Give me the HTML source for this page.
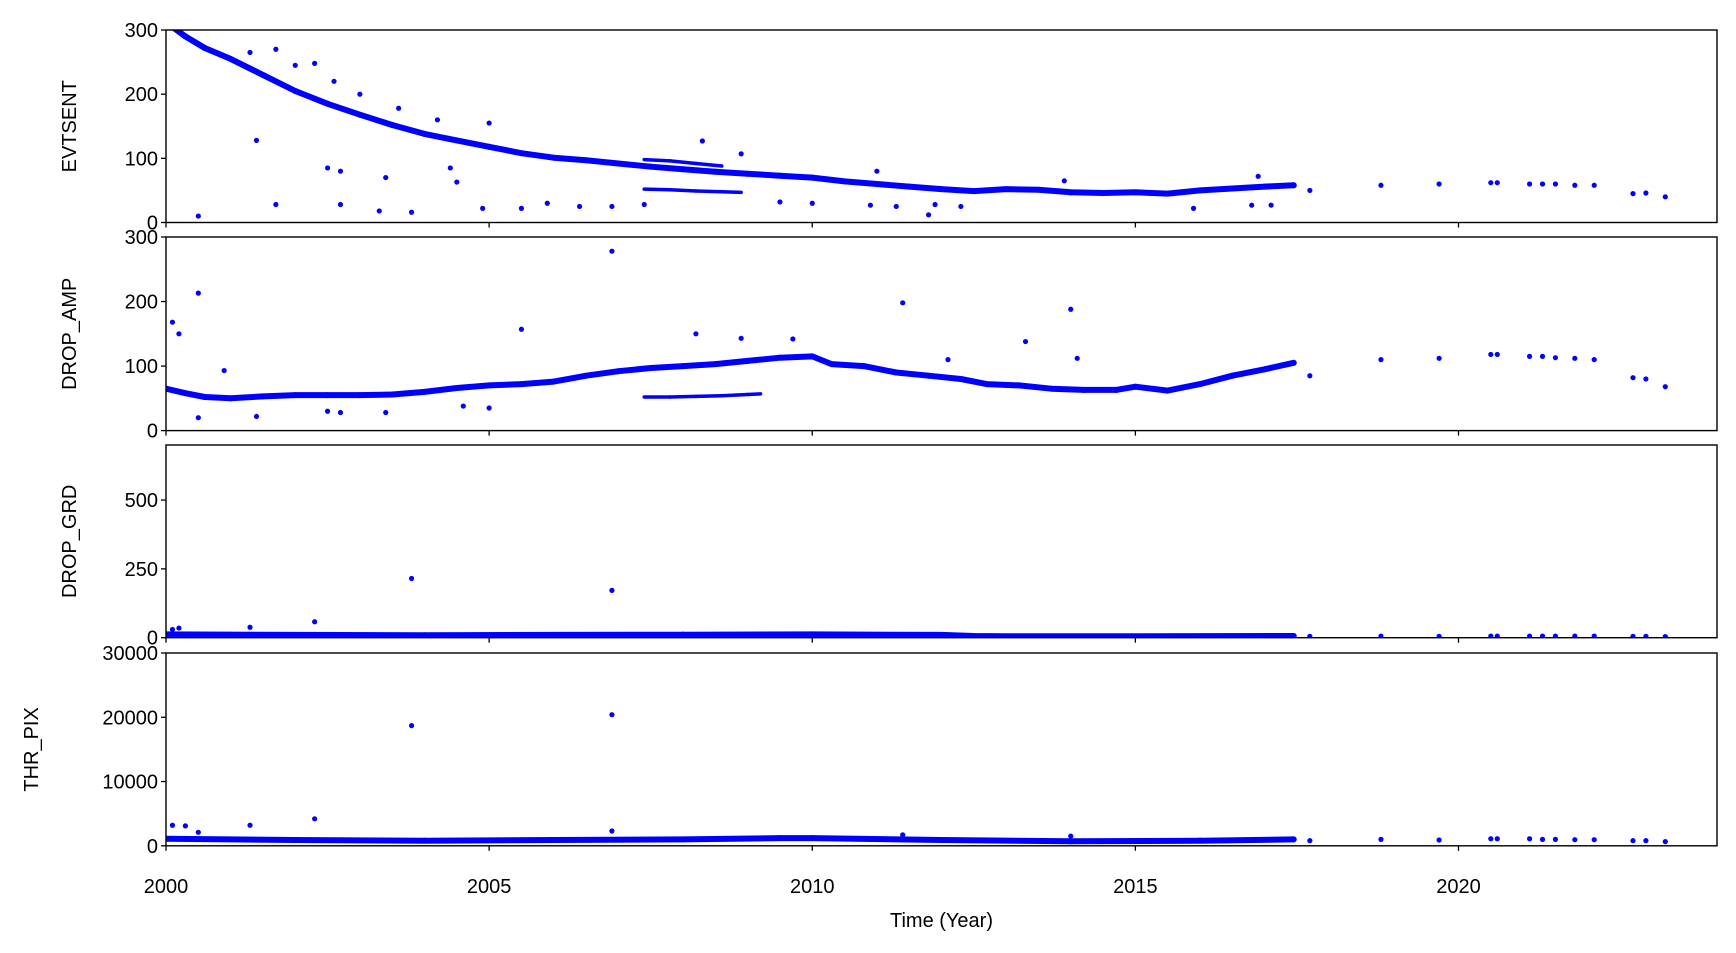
<!DOCTYPE html>
<html><head><meta charset="utf-8">
<style>
html,body{margin:0;padding:0;background:#fff;}
svg{display:block;font-family:"Liberation Sans","DejaVu Sans",sans-serif;}
</style></head>
<body>
<svg id="chart" width="1736" height="953" viewBox="0 0 1736 953" xmlns="http://www.w3.org/2000/svg"></svg>
<script>
// ---- data ----
const xTicks = [2000, 2005, 2010, 2015, 2020];
const panelNames = ["EVTSENT", "DROP_AMP", "DROP_GRD", "THR_PIX"];
const yMaxes = [300, 300, 700, 30000];
const yTicks0 = [0, 100, 200, 300];
const yTicks1 = [0, 100, 200, 300];
const yTicks2 = [0, 250, 500];
const yTicks3 = [0, 10000, 20000, 30000];

const evtYears = [2000.0,2000.3,2000.6,2001,2001.5,2002,2002.5,2003,2003.5,2004,2004.5,2005,2005.5,2006,2006.5,2007,2007.5,2008,2008.5,2009,2009.5,2010,2010.5,2011,2011.5,2012,2012.5,2013,2013.5,2014,2014.5,2015,2015.5,2016,2016.5,2017,2017.45];
const evtVals  = [312,290,272,255,230,205,185,168,152,138,128,118,108,101,97,92,87,83,79,76,73,70,64,60,56,52,49,52,51,47,46,47,45,50,53,56,58];
const evtBandYears = [2007.4,2007.8,2008.2,2008.6,2007.4,2007.8,2008.2,2008.6,2008.9];
const evtBandVals  = [98,96,92,88,52,51,49,48,47];
const evtPtYears = [2000.5,2001.4,2001.7,2002.5,2002.7,2002.7,2003.4,2003.3,2003.8,2004.4,2004.5,2004.9,2005.5,2005.9,2006.4,2006.9,2007.4,2008.3,2008.9,2009.5,2010,2010.9,2011.3,2011.8,2011.9,2012.3,2015.9,2016.8,2017.1,2001.3,2001.7,2002,2002.3,2002.6,2003,2003.6,2004.2,2005,2016.9,2011,2013.9,2017.7,2018.8,2019.7,2020.5,2020.6,2021.1,2021.3,2021.5,2021.8,2022.1,2022.7,2022.9,2023.2];
const evtPtVals  = [10,128,28,85,80,28,70,18,16,85,63,22,22,30,25,25,28,127,107,32,30,27,25,12,28,25,22,27,27,265,270,245,248,220,200,178,160,155,72,80,65,50,58,60,62,62,60,60,60,58,58,45,46,40];

const ampYears = [2000,2000.3,2000.6,2001,2001.5,2002,2002.5,2003,2003.5,2004,2004.5,2005,2005.5,2006,2006.5,2007,2007.5,2008,2008.5,2009,2009.5,2010,2010.3,2010.8,2011.3,2011.8,2012.3,2012.7,2013.2,2013.7,2014.2,2014.7,2015,2015.5,2016,2016.5,2017,2017.45];
const ampVals  = [65,58,52,50,53,55,55,55,56,60,66,70,72,76,85,92,97,100,103,108,113,115,103,100,90,85,80,72,70,65,63,63,68,62,72,85,95,105];
const ampBandYears = [2007.4,2007.8,2008.2,2008.6,2009.0,2009.2];
const ampBandVals  = [52,52,53,54,56,57];
const ampPtYears = [2000.1,2000.2,2000.5,2000.9,2000.5,2001.4,2002.5,2002.7,2003.4,2005.5,2006.9,2008.2,2008.9,2009.7,2011.4,2013.3,2014.0,2014.1,2004.6,2005,2012.1,2017.7,2018.8,2019.7,2020.5,2020.6,2021.1,2021.3,2021.5,2021.8,2022.1,2022.7,2022.9,2023.2];
const ampPtVals  = [168,150,213,93,20,22,30,28,28,157,278,150,143,142,198,138,188,112,38,35,110,85,110,112,118,118,115,115,113,112,110,82,80,68];

const grdYears = [2000,2002,2004,2006,2008,2010,2012,2012.5,2013,2015,2017.45];
const grdVals  = [12,10,9,10,11,12,10,6,5,5,6];
const grdPtYears = [2003.8,2006.9,2002.3,2001.3,2000.2,2000.1,2017.7,2018.8,2019.7,2020.5,2020.6,2021.1,2021.3,2021.5,2021.8,2022.1,2022.7,2022.9,2023.2];
const grdPtVals  = [215,172,58,38,35,30,5,6,5,6,6,6,6,6,6,6,5,5,4];

const thrYears = [2000,2002,2004,2006,2008,2009.5,2010,2012,2014,2016,2017.45];
const thrVals  = [1100,900,800,900,1000,1200,1200,900,700,800,1000];
const thrPtYears = [2003.8,2006.9,2002.3,2001.3,2000.1,2000.3,2000.5,2006.9,2011.4,2014,2017.7,2018.8,2019.7,2020.5,2020.6,2021.1,2021.3,2021.5,2021.8,2022.1,2022.7,2022.9,2023.2];
const thrPtVals  = [18700,20400,4200,3200,3200,3100,2100,2300,1700,1500,800,1000,900,1100,1100,1100,1000,1000,950,950,800,800,650];

// ---- layout ----
const NS = "http://www.w3.org/2000/svg";
const svg = document.getElementById("chart");
const L = 166, R = 1717;
const panels = [[30,222.5],[237,430.6],[445,637.7],[653,845.8]];
const labelX = [76, 76, 76, 38];
const xs = v => L + (v - 2000) / 24 * (R - L);
function mk(tag, attrs, parent){ const e=document.createElementNS(NS,tag); for(const k in attrs) e.setAttribute(k,attrs[k]); (parent||svg).appendChild(e); return e; }

const allTicks = [yTicks0, yTicks1, yTicks2, yTicks3];
const series = [
  [evtYears, evtVals, evtBandYears, evtBandVals, evtPtYears, evtPtVals],
  [ampYears, ampVals, ampBandYears, ampBandVals, ampPtYears, ampPtVals],
  [grdYears, grdVals, [], [], grdPtYears, grdPtVals],
  [thrYears, thrVals, [], [], thrPtYears, thrPtVals]
];

panels.forEach((p, i) => {
  const [top, bot] = p;
  const ys = v => bot - v / yMaxes[i] * (bot - top);
  const g = mk("g", {});
  
  
  const cp = mk("clipPath", {id: "clip" + i}, g);
  mk("rect", {x: L, y: top, width: R - L, height: bot - top}, cp);
  const marks = mk("g", {"clip-path": "url(#clip" + i + ")"}, g);
  const [tx, tv, bx, bv, px, pv] = series[i];
  const pts = tx.map((x, k) => xs(x).toFixed(1) + "," + ys(tv[k]).toFixed(1)).join(" ");
  const band = mk("polyline", {points: pts, fill: "none", stroke: "#0000ff", "stroke-width": 6, "stroke-linejoin": "round", "stroke-linecap": "round"}, marks);
  
  
  for (let k = 0; k + 1 < bx.length; k++) {
    if (bx[k + 1] < bx[k]) continue;
    const seg = mk("line", {x1: xs(bx[k]), y1: ys(bv[k]), x2: xs(bx[k+1]), y2: ys(bv[k+1]), stroke: "#0000ff", "stroke-width": 3.5, "stroke-linecap": "round"}, marks);
    
    
  }
  tx.forEach((x, k) => {
    const c = mk("circle", {cx: xs(x), cy: ys(tv[k]), r: 3, fill: "#0000ff"}, marks);
    
    
  });
  px.forEach((x, k) => {
    const c = mk("circle", {cx: xs(x), cy: ys(pv[k]), r: 2.6, fill: "#0000ff"}, marks);
    
    
  });
  const fr = mk("rect", {x: L, y: top, width: R - L, height: bot - top, fill: "none", stroke: "#000", "stroke-width": 1.4}, g);
  
  
  allTicks[i].forEach(t => {
    const y = ys(t);
    mk("line", {x1: L - 5, y1: y, x2: L, y2: y, stroke: "#000", "stroke-width": 1.3}, g);
    const tl = mk("text", {x: L - 8, y: y + 7, "text-anchor": "end", "font-size": 20, fill: "#000"}, g);
    tl.textContent = t;
    
    
  });
  xTicks.forEach(t => { mk("line", {x1: xs(t), y1: bot, x2: xs(t), y2: bot + 5, stroke: "#000", "stroke-width": 1.3}, g); });
  const yl = mk("text", {x: 0, y: 0, "text-anchor": "middle", "font-size": 20, fill: "#000", transform: "translate(" + labelX[i] + "," + ((top + bot) / 2) + ") rotate(-90)"}, g);
  yl.textContent = panelNames[i];
  
  
});

xTicks.forEach(t => {
  const tl = mk("text", {x: xs(t), y: 893, "text-anchor": "middle", "font-size": 20, fill: "#000"});
  tl.textContent = t;
  
  
});
const xl = mk("text", {x: (L + R) / 2, y: 927, "text-anchor": "middle", "font-size": 20, fill: "#000"});
xl.textContent = "Time (Year)";


</script>
</body></html>
